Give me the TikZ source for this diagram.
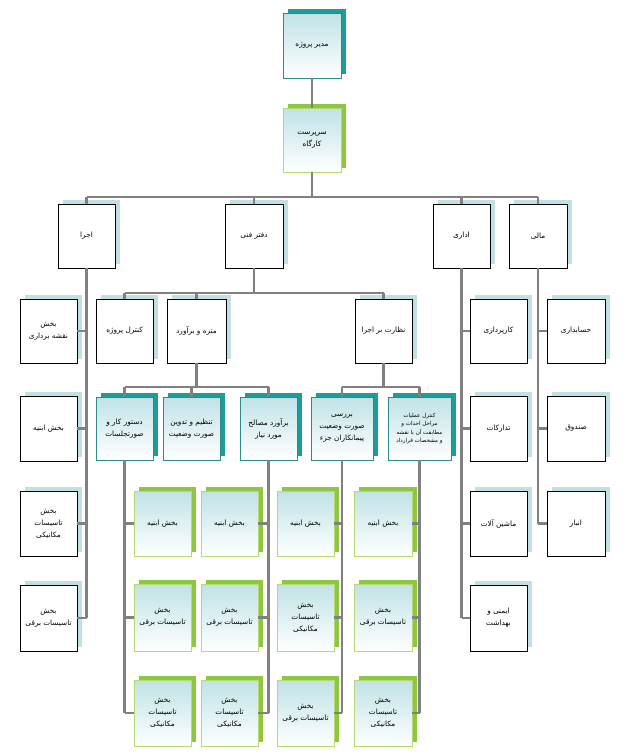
\documentclass[tikz,border=0pt]{standalone}
\usepackage{fontspec}
\newfontfamily\arabicfont[Script=Arabic]{DejaVu Sans}
\TeXXeTstate=1
\usetikzlibrary{calc}
\definecolor{lnc}{HTML}{808080}
\definecolor{pshc}{HTML}{C2DFE3}
\definecolor{tshc}{HTML}{1E9C9A}
\definecolor{tbdc}{HTML}{2E8B8C}
\definecolor{gshc}{HTML}{8DC63F}
\definecolor{gbdc}{HTML}{B8D870}
\definecolor{shd}{HTML}{BFE2E6}
\newcommand\fa[1]{\beginR #1\endR}
\newcommand\abox[7]{%
  \fill[#6sh] ($(#2,#3)+(5,-4)$) rectangle ($(#4,#5)+(5,-4)$);
  \node[#6, minimum width={#4-#2}, minimum height={#5-#3}] (#1) at ({(#2+#4)/2},{(#3+#5)/2}) {#7};}
\begin{document}
\begin{tikzpicture}[x=1pt,y=-1pt,
  base/.style={inner sep=0pt,outer sep=0pt,align=center,font=\arabicfont\fontsize{7.3}{12}\selectfont},
  pl/.style={base,draw=black,line width=0.9pt,fill=white},
  plsh/.style={fill=pshc},
  tl/.style={base,draw=tbdc,line width=0.9pt,top color=shd,bottom color=white},
  tlsh/.style={fill=tshc},
  ts/.style={tl,font=\arabicfont\fontsize{5.6}{8.5}\selectfont},
  tssh/.style={fill=tshc},
  gr/.style={base,draw=gbdc,line width=0.9pt,top color=shd,bottom color=white},
  grsh/.style={fill=gshc},
  ln/.style={draw=lnc,line width=2.6pt}]
\useasboundingbox (0,0) rectangle (623,756);
% top
\abox{mp}{283}{13}{341}{78}{tl}{\fa{مدیر پروژه}}
\abox{sk}{283}{108}{341}{172}{gr}{\fa{سرپرست}\\\fa{کارگاه}}
% level 1
\abox{ej}{58}{204}{115}{268}{pl}{\fa{اجرا}}
\abox{df}{225}{204}{283}{268}{pl}{\fa{دفتر فنی}}
\abox{ad}{433}{204}{490}{268}{pl}{\fa{اداری}}
\abox{ml}{509}{204}{567}{268}{pl}{\fa{مالی}}
% left column
\abox{e1}{20}{299}{77}{363}{pl}{\fa{بخش}\\\fa{نقشه برداری}}
\abox{e2}{20}{396}{77}{461}{pl}{\fa{بخش ابنیه}}
\abox{e3}{20}{491}{77}{556}{pl}{\fa{بخش}\\\fa{تاسیسات}\\\fa{مکانیکی}}
\abox{e4}{20}{585}{77}{651}{pl}{\fa{بخش}\\\fa{تاسیسات برقی}}
% right columns
\abox{a1}{470}{299}{527}{363}{pl}{\fa{کارپردازی}}
\abox{a2}{470}{396}{527}{461}{pl}{\fa{تدارکات}}
\abox{a3}{470}{491}{527}{556}{pl}{\fa{ماشین آلات}}
\abox{a4}{470}{585}{527}{651}{pl}{\fa{ایمنی و}\\\fa{بهداشت}}
\abox{m1}{547}{299}{605}{363}{pl}{\fa{حسابداری}}
\abox{m2}{547}{396}{605}{461}{pl}{\fa{صندوق}}
\abox{m3}{547}{491}{605}{556}{pl}{\fa{انبار}}
% level 2
\abox{kp}{96}{299}{153}{363}{pl}{\fa{کنترل پروژه}}
\abox{mb}{167}{299}{226}{363}{pl}{\fa{متره و برآورد}}
\abox{nb}{355}{299}{412}{363}{pl}{\fa{نظارت بر اجرا}}
% level 3
\abox{ds}{96}{397}{153}{460}{tl}{\fa{دستور کار و}\\\fa{صورتجلسات}}
\abox{tt}{163}{397}{220}{460}{tl}{\fa{تنظیم و تدوین}\\\fa{صورت وضعیت}}
\abox{bm}{240}{397}{297}{460}{tl}{\fa{برآورد مصالح}\\\fa{مورد نیاز}}
\abox{br}{311}{397}{373}{460}{tl}{\fa{بررسی}\\\fa{صورت وضعیت}\\\fa{پیمانکاران جزء}}
\abox{ko}{388}{397}{451}{460}{ts}{\fa{کنترل عملیات}\\\fa{مراحل احداث و}\\\fa{مطابقت آن با نقشه}\\\fa{و مشخصات قرارداد}}
% bottom grid
\abox{c11}{134}{491}{191}{556}{gr}{\fa{بخش ابنیه}}
\abox{c12}{134}{584}{191}{651}{gr}{\fa{بخش}\\\fa{تاسیسات برقی}}
\abox{c13}{134}{680}{191}{746}{gr}{\fa{بخش}\\\fa{تاسیسات}\\\fa{مکانیکی}}
\abox{c21}{201}{491}{258}{556}{gr}{\fa{بخش ابنیه}}
\abox{c22}{201}{584}{258}{651}{gr}{\fa{بخش}\\\fa{تاسیسات برقی}}
\abox{c23}{201}{680}{258}{746}{gr}{\fa{بخش}\\\fa{تاسیسات}\\\fa{مکانیکی}}
\abox{c31}{277}{491}{334}{556}{gr}{\fa{بخش ابنیه}}
\abox{c32}{277}{584}{334}{651}{gr}{\fa{بخش}\\\fa{تاسیسات}\\\fa{مکانیکی}}
\abox{c33}{277}{680}{334}{746}{gr}{\fa{بخش}\\\fa{تاسیسات برقی}}
\abox{c41}{354}{491}{412}{556}{gr}{\fa{بخش ابنیه}}
\abox{c42}{354}{584}{412}{651}{gr}{\fa{بخش}\\\fa{تاسیسات برقی}}
\abox{c43}{354}{680}{412}{746}{gr}{\fa{بخش}\\\fa{تاسیسات}\\\fa{مکانیکی}}
% connectors
\draw[ln] (mp) -- (sk);
\draw[ln] (sk.south) -- (sk.south |- 0,197);
\draw[ln] (ej.north |- 0,197) -- (ml.north |- 0,197);
\foreach \n in {ej,df,ad,ml} \draw[ln] (\n.north |- 0,197) -- (\n.north);
% side columns
\draw[ln] (ej.south) -- (ej.south |- e4.east);
\foreach \n in {e1,e2,e3,e4} \draw[ln] (\n.east) -- (ej.south |- \n.east);
\draw[ln] (ad.south) -- (ad.south |- a4.west);
\foreach \n in {a1,a2,a3,a4} \draw[ln] (\n.west) -- (ad.south |- \n.west);
\draw[ln] (ml.south) -- (ml.south |- m3.west);
\foreach \n in {m1,m2,m3} \draw[ln] (\n.west) -- (ml.south |- \n.west);
% level 2
\draw[ln] (df.south) -- (df.south |- 0,293);
\draw[ln] (kp.north |- 0,293) -- (nb.north |- 0,293);
\foreach \n in {kp,mb,nb} \draw[ln] (\n.north |- 0,293) -- (\n.north);
% level 3
\draw[ln] (mb.south) -- (mb.south |- 0,387);
\draw[ln] (ds.north |- 0,387) -- (bm.north |- 0,387);
\foreach \n in {ds,tt,bm} \draw[ln] (\n.north |- 0,387) -- (\n.north);
\draw[ln] (nb.south) -- (nb.south |- 0,387);
\draw[ln] (br.north |- 0,387) -- (ko.north |- 0,387);
\foreach \n in {br,ko} \draw[ln] (\n.north |- 0,387) -- (\n.north);
% bottom lines
\draw[ln] (ds.south) -- (ds.south |- c13.west);
\foreach \n in {c11,c12,c13} \draw[ln] (\n.west) -- (ds.south |- \n.west);
\draw[ln] (bm.south) -- (bm.south |- c23.east);
\foreach \n in {c21,c22,c23} \draw[ln] (\n.east) -- (bm.south |- \n.east);
\draw[ln] (br.south) -- (br.south |- c33.east);
\foreach \n in {c31,c32,c33} \draw[ln] (\n.east) -- (br.south |- \n.east);
\draw[ln] (ko.south) -- (ko.south |- c43.east);
\foreach \n in {c41,c42,c43} \draw[ln] (\n.east) -- (ko.south |- \n.east);
\end{tikzpicture}
\end{document}
